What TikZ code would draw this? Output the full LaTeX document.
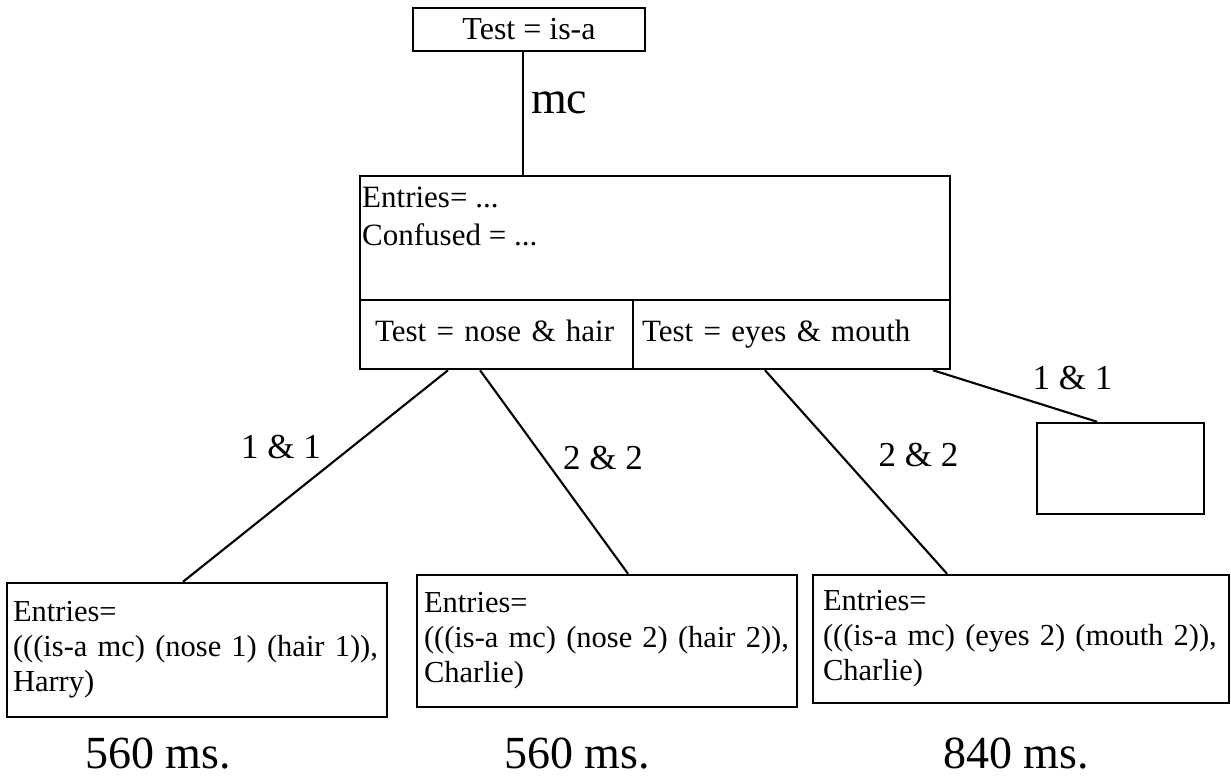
\documentclass[tikz,border=0pt]{standalone}
\usepackage{fontspec}
\setmainfont{Liberation Serif}
\begin{document}
\begin{tikzpicture}[x=1pt,y=-1pt,
  box/.style={draw, line width=2.5pt, rectangle, inner sep=0pt},
  cell/.style={box, font=\fontsize{31}{37}\selectfont, align=left, text height=21pt, text depth=7pt},
  leaf/.style={box, font=\fontsize{30.5}{35}\selectfont, align=left},
  link/.style={line width=2.1pt},
  lbl/.style={inner sep=0pt, font=\fontsize{35}{40}\selectfont},
  big/.style={inner sep=0pt, font=\fontsize{46}{50}\selectfont},
]
\useasboundingbox (0,0) rectangle (1231,781);

% root test
\node[box, minimum width=232pt, minimum height=43pt, font=\fontsize{32}{36}\selectfont] (root) at (529,29.5) {Test = is-a};

% internal node: entries cell and the two test cells
\node[box, minimum width=590pt, minimum height=124pt] (info) at (655,238) {};
\node[anchor=north west, align=left, inner sep=0pt, font=\fontsize{31}{38}\selectfont] (infotext) at (362,187) {Entries= ...\\Confused = ...};
\node[cell, inner xsep=15pt, text width=243pt, minimum height=69pt] (tnh) at (496.5,334.5) {Test = nose \& hair};
\node[cell, inner xsep=9pt, text width=299pt, minimum height=69pt] (tem) at (791.5,334.5) {Test = eyes \& mouth};

% leaves
\node[leaf, inner xsep=6pt, text width=368pt, minimum height=134pt] (harry) at (197,650) {Entries=\\\mbox{(((is-a mc) (nose 1) (hair 1)),}\\Harry)};
\node[leaf, inner xsep=7pt, text width=366pt, minimum height=132pt] (charlieA) at (607,641) {Entries=\\\mbox{(((is-a mc) (nose 2) (hair 2)),}\\Charlie)};
\node[leaf, inner xsep=10pt, text width=396pt, minimum height=128pt] (charlieB) at (1021,639) {Entries=\\\mbox{(((is-a mc) (eyes 2) (mouth 2)),}\\Charlie)};
\node[box, minimum width=167pt, minimum height=91pt] (empty) at (1120.5,468.5) {};

% connectors
\coordinate (stem) at ([xshift=-6pt]root.south);
\draw[link] (stem) -- node[big, anchor=base west, xshift=7pt] (mc) {mc} (stem |- info.north);
\draw[link] ([xshift=-48.5pt]tnh.south) -- ([xshift=-14pt]harry.north);
\draw[link] ([xshift=-16.5pt]tnh.south) -- ([xshift=21pt]charlieA.north);
\draw[link] ([xshift=-26.5pt]tem.south) -- ([xshift=-74pt]charlieB.north);
\draw[link] ([xshift=141.5pt]tem.south) -- ([xshift=-23.5pt]empty.north);

% branch labels
\node[lbl] (b1) at (281,447) {1 \& 1};
\node[lbl] (b2) at (603,458) {2 \& 2};
\node[lbl] (b3) at (918.5,455) {2 \& 2};
\node[lbl] (b4) at (1072.5,378) {1 \& 1};

% timings
\node[big, anchor=base] (t1) at (158,768) {560 ms.};
\node[big, anchor=base] (t2) at (577,768) {560 ms.};
\node[big, anchor=base] (t3) at (1016,768) {840 ms.};
\end{tikzpicture}
\end{document}
